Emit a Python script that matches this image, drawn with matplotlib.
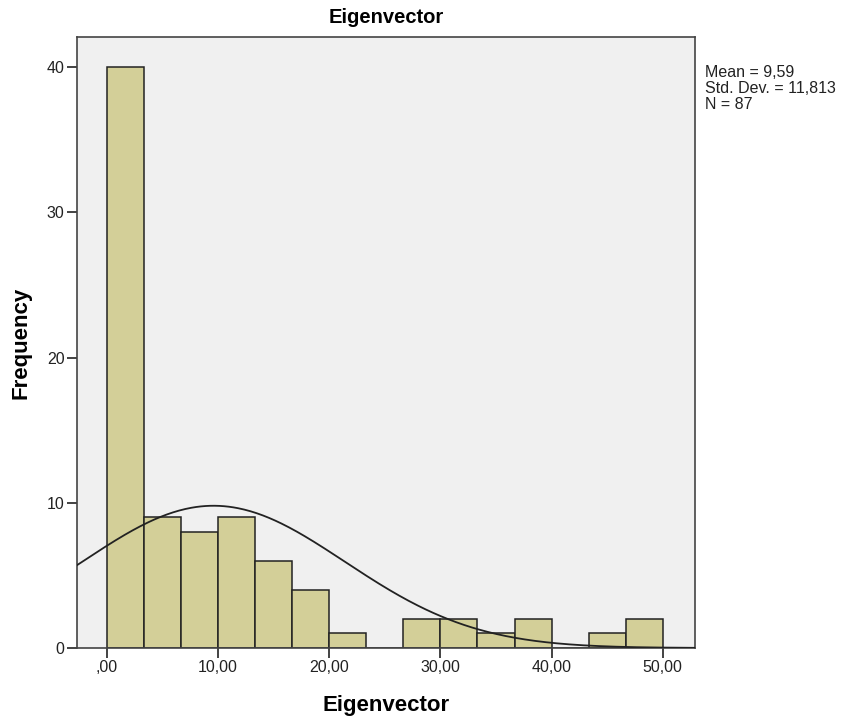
import matplotlib.pyplot as plt
import numpy as np
from matplotlib.ticker import FuncFormatter

plt.rcParams['font.family'] = ['Liberation Sans', 'DejaVu Sans']

# histogram bins (width 50/15) and counts per bin
bin_edges = np.linspace(0, 50, 16)
counts = [40, 9, 8, 9, 6, 4, 1, 0, 2, 2, 1, 2, 0, 1, 2]
mean = 9.59
std = 11.813
n = 87


def comma_fmt(v, pos):
    s = f"{v:.2f}".replace(".", ",")
    if s.startswith("0,"):
        s = s[1:]
    return s


fig = plt.figure(figsize=(8.42, 7.22), dpi=100)
ax = fig.add_axes([0.0914, 0.1025, 0.734, 0.8463])
ax.set_facecolor("#f0f0f0")

width = bin_edges[1] - bin_edges[0]
ax.bar(bin_edges[:-1], counts, width=width, align="edge",
       color="#d3cf98", edgecolor="#222222", linewidth=1.1, zorder=2)

# normal curve scaled to counts
xs = np.linspace(-2.7, 52.9, 400)
ys = n * width * np.exp(-0.5 * ((xs - mean) / std) ** 2) / (std * np.sqrt(2 * np.pi))
ax.plot(xs, ys, color="#222222", linewidth=1.3, zorder=3)

ax.set_xlim(-2.7, 52.9)
ax.set_ylim(0, 42.07)
ax.set_xticks([0, 10, 20, 30, 40, 50])
ax.set_yticks([0, 10, 20, 30, 40])
ax.xaxis.set_major_formatter(FuncFormatter(comma_fmt))
ax.tick_params(axis="both", direction="out", length=7, width=1.2, pad=2,
               colors="#222222", labelsize=11.5, labelcolor="#222222")
for sp in ax.spines.values():
    sp.set_color("#444444")
    sp.set_linewidth(1.2)

ax.set_title("Eigenvector", fontsize=14.5, fontweight="bold", pad=10)
ax.set_xlabel("Eigenvector", fontsize=16, fontweight="bold", labelpad=14)
ax.set_ylabel("Frequency", fontsize=16, fontweight="bold", labelpad=11)

fig.text(0.837, 0.91, f"Mean = 9,59\nStd. Dev. = 11,813\nN = {n}",
         fontsize=11.5, va="top", ha="left", linespacing=1.08, color="#222222")

fig.savefig("out.png", dpi=100)
